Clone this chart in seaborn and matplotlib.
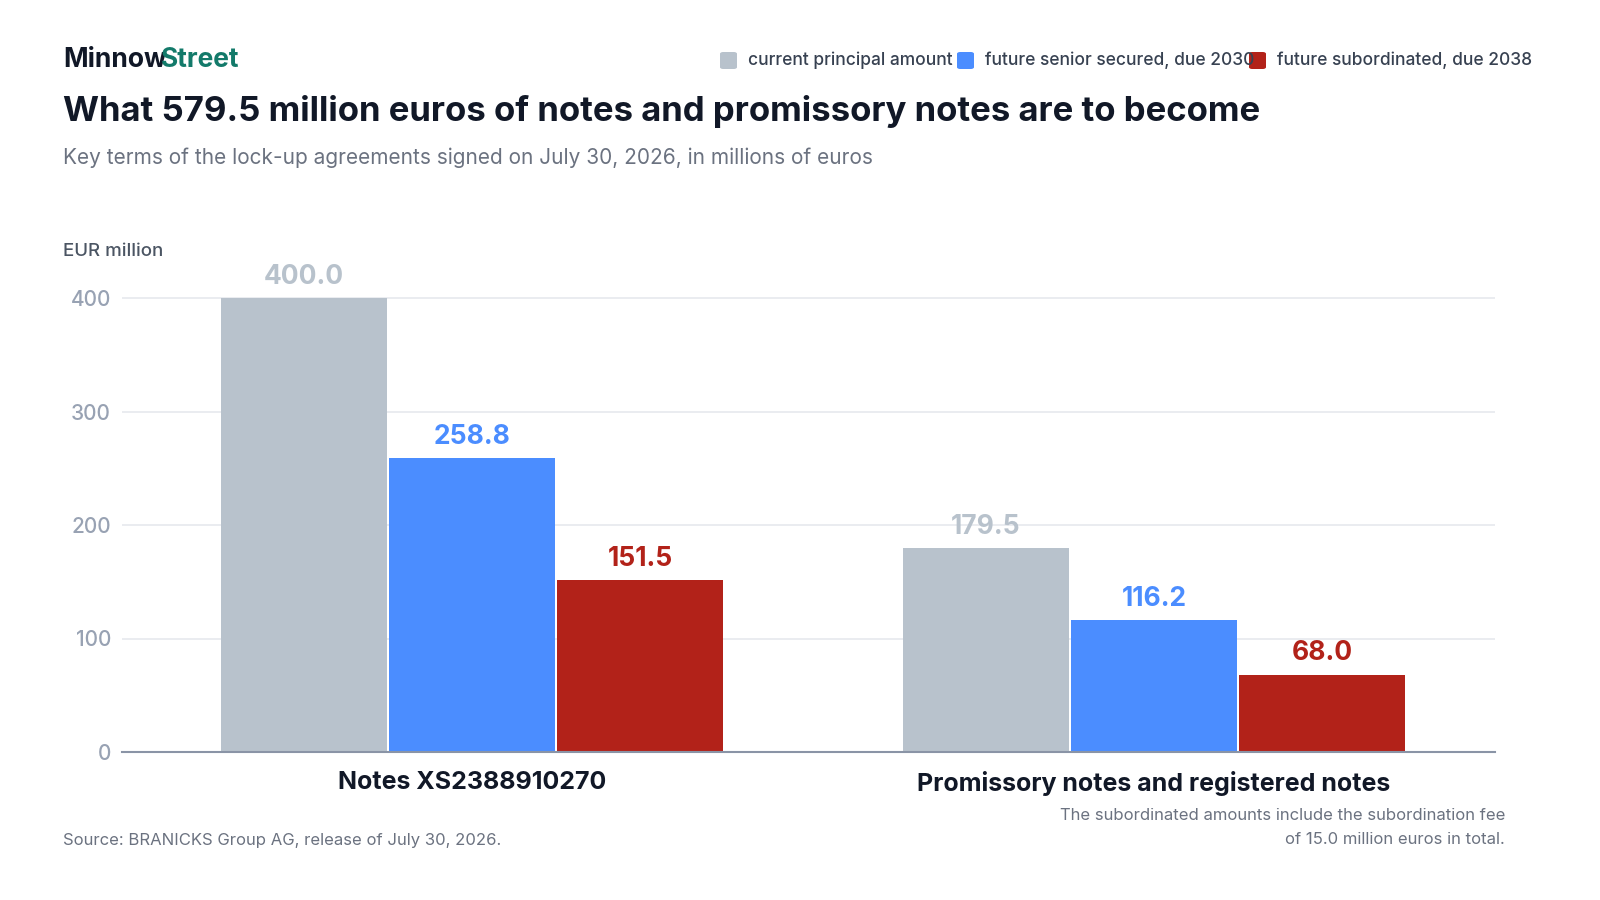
import matplotlib
matplotlib.use("Agg")
import matplotlib.pyplot as plt
import seaborn as sns
import pandas as pd

categories = ["Notes XS2388910270", "Promissory notes and registered notes"]
series = ["current principal amount", "future senior secured, due 2030", "future subordinated, due 2038"]
current = [400.0, 179.5]
senior = [258.8, 116.2]
subord = [151.5, 68.0]
colors = ["#b8c2cc", "#4b8dff", "#b22219"]

rows = []
for s, vals in zip(series, [current, senior, subord]):
    for c, v in zip(categories, vals):
        rows.append({"cat": c, "series": s, "value": v})
df = pd.DataFrame(rows)

sns.set_theme(style="white")
plt.rcParams["font.family"] = ["Inter", "DejaVu Sans"]

fig = plt.figure(figsize=(16, 9), dpi=100)
ax = fig.add_axes([122/1600, 1-752/900, (1495-122)/1600, 476.7/900])
sns.barplot(data=df, x="cat", y="value", hue="series", palette=colors,
            width=0.74, gap=0.012, saturation=1, ax=ax, legend=False, edgecolor="none")
ax.set_xlim(-0.513, 1.5)
ax.set_ylim(0, 420)
ax.set_yticks([0, 100, 200, 300, 400])
ax.yaxis.grid(True, color="#e6e9ee", linewidth=1.2)
ax.set_axisbelow(True)
for sp in ["top", "right", "left"]:
    ax.spines[sp].set_visible(False)
ax.spines["bottom"].set_color("#8a94a6")
ax.spines["bottom"].set_linewidth(1.5)
ax.tick_params(axis="y", length=0, labelsize=15, labelcolor="#98a2b3", pad=8)
ax.tick_params(axis="x", length=0, labelsize=18, pad=14)
for lab in ax.get_xticklabels():
    lab.set_fontweight("bold")
    lab.set_color("#111827")
for lab in ax.get_yticklabels():
    lab.set_fontweight("medium")
ax.set_xlabel("")
ax.set_ylabel("")

for cont, col in zip(ax.containers, colors):
    ax.bar_label(cont, fmt="%.1f", padding=6, fontsize=19, fontweight="bold", color=col)

fig.text(63/1600, 1-60/900, "Minnow", fontsize=19, fontweight="bold", color="#111827", va="center")
fig.text(161/1600, 1-60/900, "Street", fontsize=19, fontweight="bold", color="#137a6a", va="center")
fig.text(63/1600, 1-111/900, "What 579.5 million euros of notes and promissory notes are to become",
         fontsize=25, fontweight="bold", color="#111827", va="center")
fig.text(63/1600, 1-158/900, "Key terms of the lock-up agreements signed on July 30, 2026, in millions of euros",
         fontsize=15, color="#6b7280", va="center")
fig.text(63/1600, 1-252/900, "EUR million", fontsize=13.5, fontweight="medium", color="#4b5563", va="center")
fig.text(63/1600, 1-840/900, "Source: BRANICKS Group AG, release of July 30, 2026.", fontsize=12, color="#6b7280", va="center")
fig.text(1505/1600, 1-816/900, "The subordinated amounts include the subordination fee", fontsize=12,
         color="#6b7280", va="center", ha="right")
fig.text(1505/1600, 1-840/900, "of 15.0 million euros in total.", fontsize=12,
         color="#6b7280", va="center", ha="right")

# legend
leg = [(720, 748, series[0], colors[0]), (957, 985, series[1], colors[1]), (1249, 1277, series[2], colors[2])]
for sx, tx, name, col in leg:
    fig.patches.append(matplotlib.patches.FancyBboxPatch((sx/1600, 1-69/900), 17/1600, 17/900,
                       boxstyle="round,pad=0,rounding_size=0.002", transform=fig.transFigure,
                       facecolor=col, edgecolor="none"))
    fig.text(tx/1600, 1-60/900, name, fontsize=12.5, fontweight="medium", color="#374151", va="center")

fig.savefig("out.png", dpi=100, facecolor="white")
